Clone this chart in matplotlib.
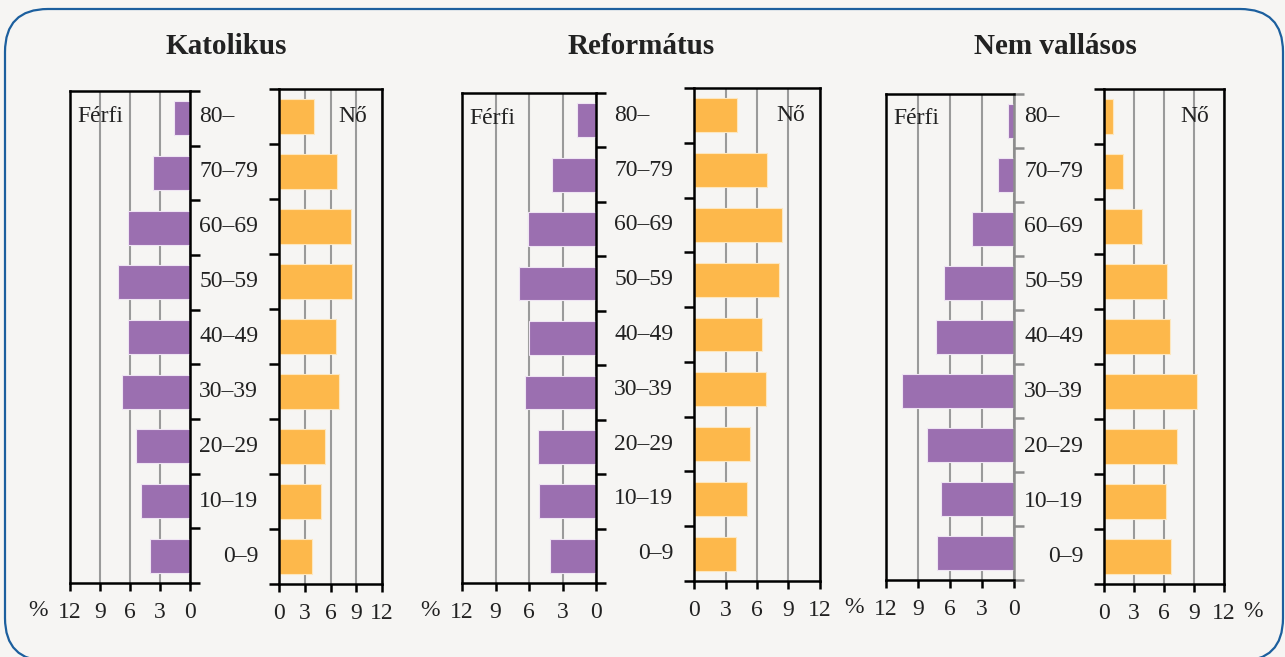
import matplotlib.pyplot as plt
from matplotlib.patches import FancyBboxPatch

age_groups = ['0–9', '10–19', '20–29', '30–39', '40–49', '50–59', '60–69', '70–79', '80–']
titles = ['Katolikus', 'Református', 'Nem vallásos']

katolikus_ferfi = [4.0, 4.9, 5.4, 6.8, 6.2, 7.2, 6.2, 3.7, 1.6]
katolikus_no = [3.9, 4.9, 5.4, 7.0, 6.6, 8.5, 8.4, 6.8, 4.1]
reformatus_ferfi = [4.1, 5.1, 5.2, 6.4, 6.0, 6.9, 6.1, 3.9, 1.7]
reformatus_no = [4.0, 5.0, 5.3, 6.9, 6.5, 8.1, 8.4, 7.0, 4.1]
nemvallasos_ferfi = [7.2, 6.8, 8.2, 10.5, 7.3, 6.6, 3.9, 1.5, 0.6]
nemvallasos_no = [6.7, 6.2, 7.3, 9.3, 6.6, 6.3, 3.8, 1.9, 0.9]

x_ticks = [0, 3, 6, 9, 12]

W, H = 1285, 657
BG = '#f6f5f3'
PURPLE = '#9b6fb0'
ORANGE = '#fdb84b'
GRID = '#9a9a9a'
TEXT = '#222222'

# axes boxes in pixels: (x0, x1, ytop, ybottom)
male_boxes = [(70, 190, 91, 583), (462, 596, 93, 583), (886, 1014, 94, 580)]
female_boxes = [(279, 382, 89, 584), (694, 820, 88, 581), (1104, 1224, 89, 584)]

plt.rcParams['font.family'] = 'Liberation Serif'


def px_rect(box):
    x0, x1, y0, y1 = box
    return [x0 / W, 1 - y1 / H, (x1 - x0) / W, (y1 - y0) / H]


def style_axes(ax):
    ax.set_facecolor('none')
    for s in ax.spines.values():
        s.set_linewidth(1.8)
        s.set_color('black')
    ax.set_ylim(-0.5, len(age_groups) - 0.5)
    ax.set_yticks([i - 0.5 for i in range(len(age_groups) + 1)])
    ax.set_yticklabels([])
    ax.set_xticks(x_ticks)
    ax.xaxis.grid(True, color=GRID, lw=1.5)
    ax.set_axisbelow(True)
    ax.tick_params(axis='x', direction='out', length=6, width=1.8, pad=8,
                   labelsize=17, labelcolor=TEXT)
    ax.tick_params(axis='y', direction='out', length=7, width=1.8)


def draw_panel(fig, idx, ferfi, no):
    y = list(range(len(age_groups)))

    ax_m = fig.add_axes(px_rect(male_boxes[idx]))
    style_axes(ax_m)
    ax_m.barh(y, ferfi, height=0.62, color=PURPLE, edgecolor='#efe4f3', lw=0.8)
    ax_m.set_xlim(12, 0)
    ax_m.yaxis.tick_right()
    if idx == 2:
        ax_m.spines['right'].set_color('#8c8c8c')
        ax_m.tick_params(axis='y', color='#8c8c8c')
    ax_m.annotate('Férfi', xy=(0, 1), xycoords='axes fraction', xytext=(5, -18),
                  textcoords='offset points', ha='left', va='center', fontsize=17, color=TEXT)
    ax_m.annotate('%', xy=(0, 0), xycoords='axes fraction', xytext=(-23, -20),
                  textcoords='offset points', ha='center', va='center', fontsize=17, color=TEXT)

    ax_f = fig.add_axes(px_rect(female_boxes[idx]))
    style_axes(ax_f)
    ax_f.barh(y, no, height=0.62, color=ORANGE, edgecolor='#fde7bf', lw=0.8)
    ax_f.set_xlim(0, 12)
    ax_f.annotate('Nő', xy=(1, 1), xycoords='axes fraction', xytext=(-11, -20),
                  textcoords='offset points', ha='right', va='center', fontsize=17, color=TEXT)
    if idx == 2:
        ax_f.annotate('%', xy=(1, 0), xycoords='axes fraction', xytext=(21, -20),
                      textcoords='offset points', ha='center', va='center', fontsize=17, color=TEXT)

    # age group labels between the two halves
    labels = {}
    for i, g in enumerate(age_groups[:-1]):
        labels[g] = ax_f.annotate(g, xy=(0, i), xycoords=('axes fraction', 'data'), xytext=(-15, 0),
                                  textcoords='offset points', ha='right', va='center',
                                  fontsize=17, color=TEXT)
    ax_f.annotate(age_groups[-1], xy=(0, len(age_groups) - 1), xycoords=(labels['70–79'], 'data'),
                  ha='left', va='center', fontsize=17, color=TEXT)

    xm0 = male_boxes[idx][0]
    xf1 = female_boxes[idx][1]
    fig.text((xm0 + xf1) / 2 / W, 1 - 46 / H, titles[idx], ha='center', va='center',
             fontsize=21, fontweight='bold', color=TEXT)


def main():
    fig = plt.figure(figsize=(W / 100, H / 100), dpi=100, facecolor=BG)

    border = FancyBboxPatch((0.05, (H - 661) / 100), 12.78, 6.52,
                            boxstyle='round,pad=0,rounding_size=0.43',
                            transform=fig.dpi_scale_trans, facecolor='none',
                            edgecolor='#1c5f9e', lw=1.6)
    fig.patches.append(border)

    draw_panel(fig, 0, katolikus_ferfi, katolikus_no)
    draw_panel(fig, 1, reformatus_ferfi, reformatus_no)
    draw_panel(fig, 2, nemvallasos_ferfi, nemvallasos_no)

    fig.savefig('out.png', dpi=100, facecolor=BG)


if __name__ == "__main__":
    main()
